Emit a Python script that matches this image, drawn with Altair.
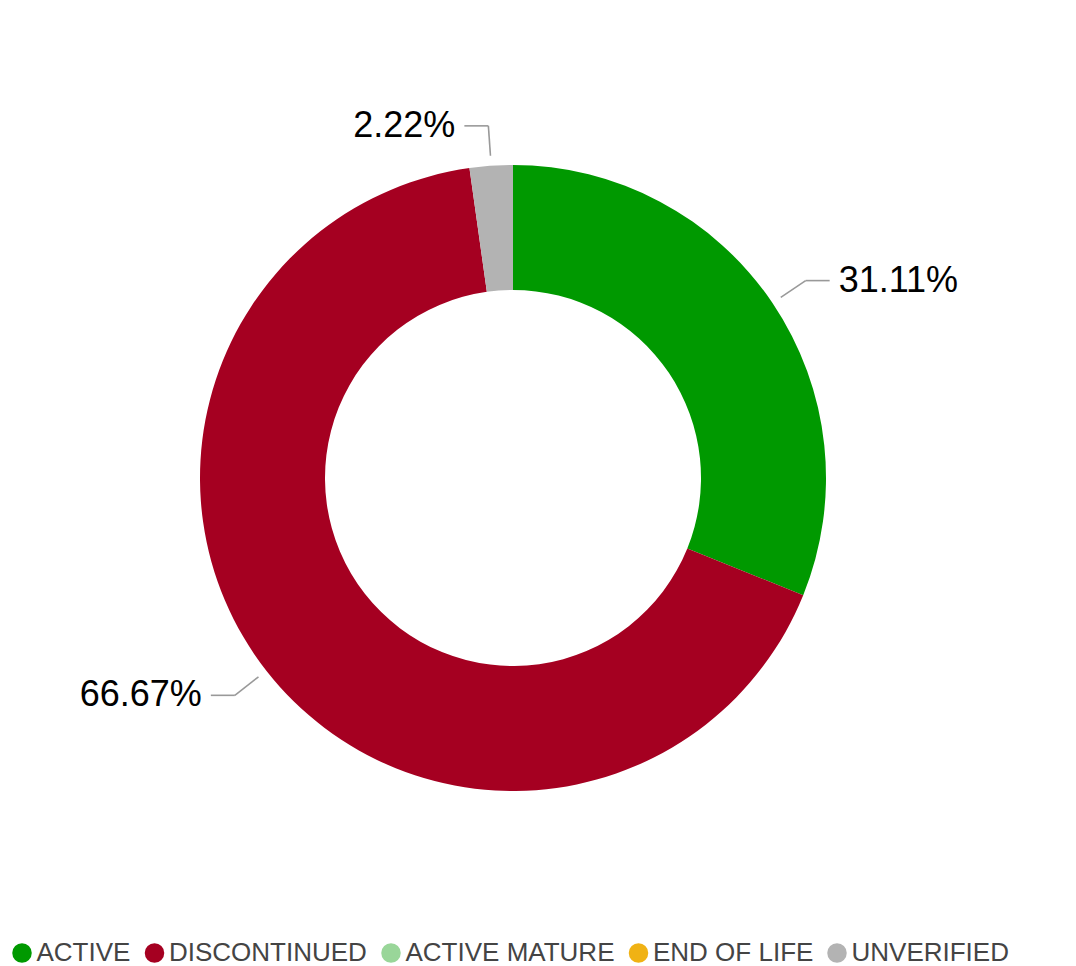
import altair as alt
import pandas as pd

categories = ["ACTIVE", "DISCONTINUED", "ACTIVE MATURE", "END OF LIFE", "UNVERIFIED"]
counts = [14, 30, 0, 0, 1]
colors = ["#009900", "#A50021", "#99D699", "#F0B214", "#B3B3B3"]

df = pd.DataFrame({"status": categories, "count": counts, "idx": list(range(len(categories)))})

W, H = 1010, 940
CX, CY = W / 2, H / 2

xs = alt.Scale(domain=[0, W], nice=False, zero=False)
ys = alt.Scale(domain=[0, H], nice=False, zero=False, reverse=True)

base = alt.Chart(df)

arc = base.mark_arc(innerRadius=188, outerRadius=313).encode(
    theta=alt.Theta("count:Q", stack=True),
    color=alt.Color(
        "status:N",
        scale=alt.Scale(domain=categories, range=colors),
        sort=categories,
        legend=alt.Legend(
            orient="none", legendX=1, legendY=932, direction="horizontal",
            title=None, symbolType="circle", symbolSize=380, symbolStrokeWidth=0,
            labelFontSize=26, labelColor="#444444", labelFont="Liberation Sans",
            labelLimit=0, columnPadding=10.5, labelOffset=1.5, padding=0,
        ),
    ),
    order=alt.Order("idx:Q"),
)

lead = (
    base.transform_joinaggregate(total="sum(count)")
    .transform_window(cum="sum(count)", sort=[alt.SortField("idx")], frame=[None, 0])
    .transform_filter("datum.count > 0")
    .transform_calculate(
        a="(datum.cum - datum.count/2) / datum.total * 2 * PI",
    )
    .transform_calculate(
        side="sin(datum.a) >= 0 ? 1 : -1",
        x1=f"{CX} + 323*sin(datum.a)",
        y1=f"{CY} - 323*cos(datum.a)",
        xe=f"{CX} + 353*sin(datum.a)",
        ye=f"{CY} - 353*cos(datum.a)",
        label="format(datum.count/datum.total, '.2%')",
    )
    .transform_calculate(
        x3="datum.xe + 24*datum.side",
        tx="datum.xe + 33*datum.side",
    )
)

rule1 = lead.mark_rule(color="#999999", strokeWidth=1.6).encode(
    x=alt.X("x1:Q", scale=xs, axis=None),
    y=alt.Y("y1:Q", scale=ys, axis=None),
    x2="xe:Q",
    y2="ye:Q",
)
rule2 = lead.mark_rule(color="#999999", strokeWidth=1.6).encode(
    x=alt.X("xe:Q", scale=xs, axis=None),
    y=alt.Y("ye:Q", scale=ys, axis=None),
    x2="x3:Q",
)

txt_r = lead.transform_filter("datum.side > 0").mark_text(
    align="left", baseline="middle", fontSize=36, font="Liberation Sans", color="#000000"
).encode(
    x=alt.X("tx:Q", scale=xs, axis=None),
    y=alt.Y("ye:Q", scale=ys, axis=None),
    text="label:N",
)
txt_l = lead.transform_filter("datum.side < 0").mark_text(
    align="right", baseline="middle", fontSize=36, font="Liberation Sans", color="#000000"
).encode(
    x=alt.X("tx:Q", scale=xs, axis=None),
    y=alt.Y("ye:Q", scale=ys, axis=None),
    text="label:N",
)

chart = alt.layer(arc, rule1, rule2, txt_r, txt_l).properties(
    width=W, height=H,
    autosize=alt.AutoSizeParams(type="none"),
    padding={"left": 0, "top": 0, "right": 50, "bottom": 20},
).configure_view(stroke=None)

chart.save("out.html", embed_options={"renderer": "svg", "actions": False})
